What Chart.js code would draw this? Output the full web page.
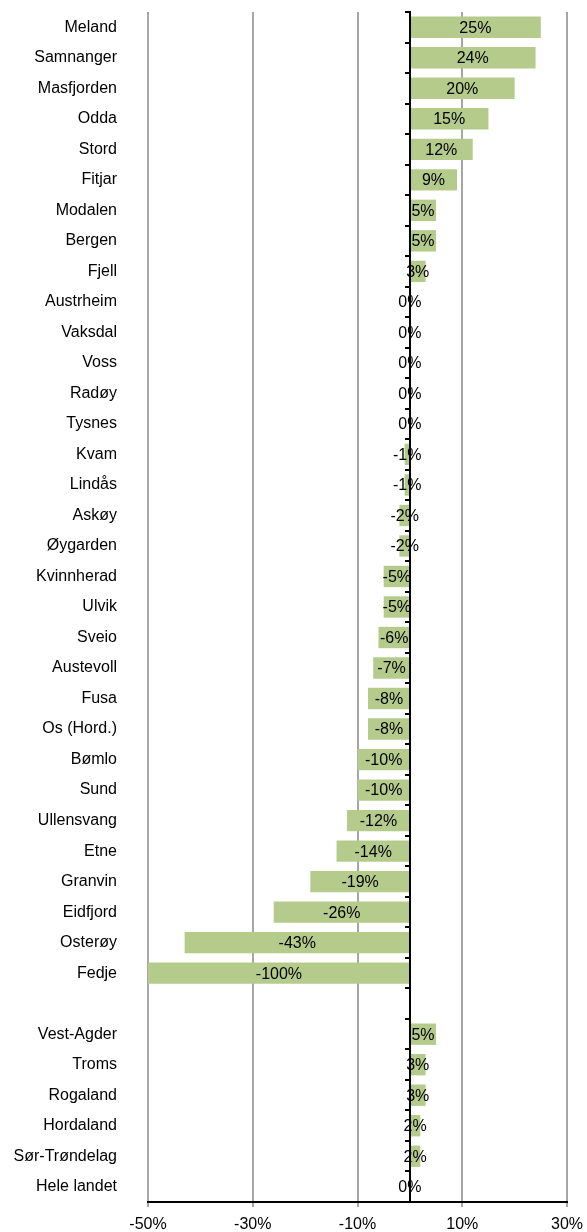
<!DOCTYPE html>
<html>
<head>
<meta charset="utf-8">
<script src="https://cdn.jsdelivr.net/npm/chart.js@4/dist/chart.umd.min.js"></script>
<style>
  html, body { margin: 0; padding: 0; background: #fff; }
  #wrap { width: 587px; height: 1232px; }
</style>
</head>
<body>
<div id="wrap"><canvas id="myChart" width="587" height="1232"></canvas></div>
<script>
// Municipalities first, then a blank row, then the county / national comparison rows
const places = [
    'Meland', 'Samnanger', 'Masfjorden', 'Odda', 'Stord', 'Fitjar', 'Modalen', 'Bergen',
    'Fjell', 'Austrheim', 'Vaksdal', 'Voss', 'Radøy', 'Tysnes', 'Kvam', 'Lindås',
    'Askøy', 'Øygarden', 'Kvinnherad', 'Ulvik', 'Sveio', 'Austevoll', 'Fusa', 'Os (Hord.)',
    'Bømlo', 'Sund', 'Ullensvang', 'Etne', 'Granvin', 'Eidfjord', 'Osterøy', 'Fedje',
    '',
    'Vest-Agder', 'Troms', 'Rogaland', 'Hordaland', 'Sør-Trøndelag', 'Hele landet'
];

// Change in percent
const changes = [
    25, 24, 20, 15, 12, 9, 5, 5,
    3, 0, 0, 0, 0, 0, -1, -1,
    -2, -2, -5, -5, -6, -7, -8, -8,
    -10, -10, -12, -14, -19, -26, -43, -100,
    null,
    5, 3, 3, 2, 2, 0
];

const xTicks = [-50, -30, -10, 10, 30];

const FONT = '"Liberation Sans", Arial, sans-serif';

// Prints the value in the middle of the visible part of each bar
const valueLabels = {
    id: 'valueLabels',
    afterDatasetsDraw(chart) {
        const { ctx, chartArea } = chart;
        const meta = chart.getDatasetMeta(0);
        ctx.save();
        ctx.font = '16px ' + FONT;
        ctx.fillStyle = '#000';
        ctx.textAlign = 'center';
        ctx.textBaseline = 'middle';
        meta.data.forEach((bar, i) => {
            const v = changes[i];
            if (v === null) return;
            const a = Math.max(chartArea.left, Math.min(bar.x, bar.base));
            const b = Math.min(chartArea.right, Math.max(bar.x, bar.base));
            ctx.fillText(v + '%', (a + b) / 2, bar.y + 1);
        });
        ctx.restore();
    }
};

const config = {
    type: 'bar',
    data: {
        labels: places,
        datasets: [{
            data: changes,
            backgroundColor: '#b4cb8c',
            borderWidth: 0,
            categoryPercentage: 1,
            barPercentage: 0.7
        }]
    },
    options: {
        indexAxis: 'y',
        responsive: false,
        animation: false,
        layout: { padding: { top: 12, right: 20, left: 0, bottom: 0 } },
        plugins: {
            legend: { display: false },
            tooltip: { enabled: false }
        },
        scales: {
            x: {
                min: -50,
                max: 30,
                afterBuildTicks: scale => { scale.ticks = xTicks.map(v => ({ value: v })); },
                grid: {
                    color: '#a6a6a6',
                    lineWidth: 2,
                    tickLength: 5
                },
                border: { display: true, color: '#000', width: 2 },
                ticks: {
                    color: '#000',
                    font: { size: 16, family: FONT },
                    padding: 8,
                    maxRotation: 0,
                    callback: v => v + '%'
                },
                afterFit: scale => {
                    scale.height = 30;
                    scale.paddingLeft = 0;
                    scale.paddingRight = 0;
                }
            },
            y: {
                grid: { display: false, drawTicks: false },
                border: { display: false },
                ticks: {
                    color: '#000',
                    font: { size: 16, family: FONT },
                    padding: 31,
                    autoSkip: false
                },
                afterFit: scale => {
                    scale.width = 148;
                    scale.paddingTop = 0;
                    scale.paddingBottom = 0;
                }
            },
            // Zero line with small marks between the rows
            y2: {
                type: 'category',
                axis: 'y',
                position: { x: 0 },
                offset: true,
                grid: {
                    offset: true,
                    drawOnChartArea: false,
                    color: '#000',
                    lineWidth: 2,
                    tickLength: 4
                },
                border: { display: true, color: '#000', width: 2, z: 1 },
                ticks: { display: false },
                afterFit: scale => { scale.width = 0; }
            }
        }
    },
    plugins: [valueLabels]
};

const ctx = document.getElementById('myChart').getContext('2d');
new Chart(ctx, config);
</script>
</body>
</html>
